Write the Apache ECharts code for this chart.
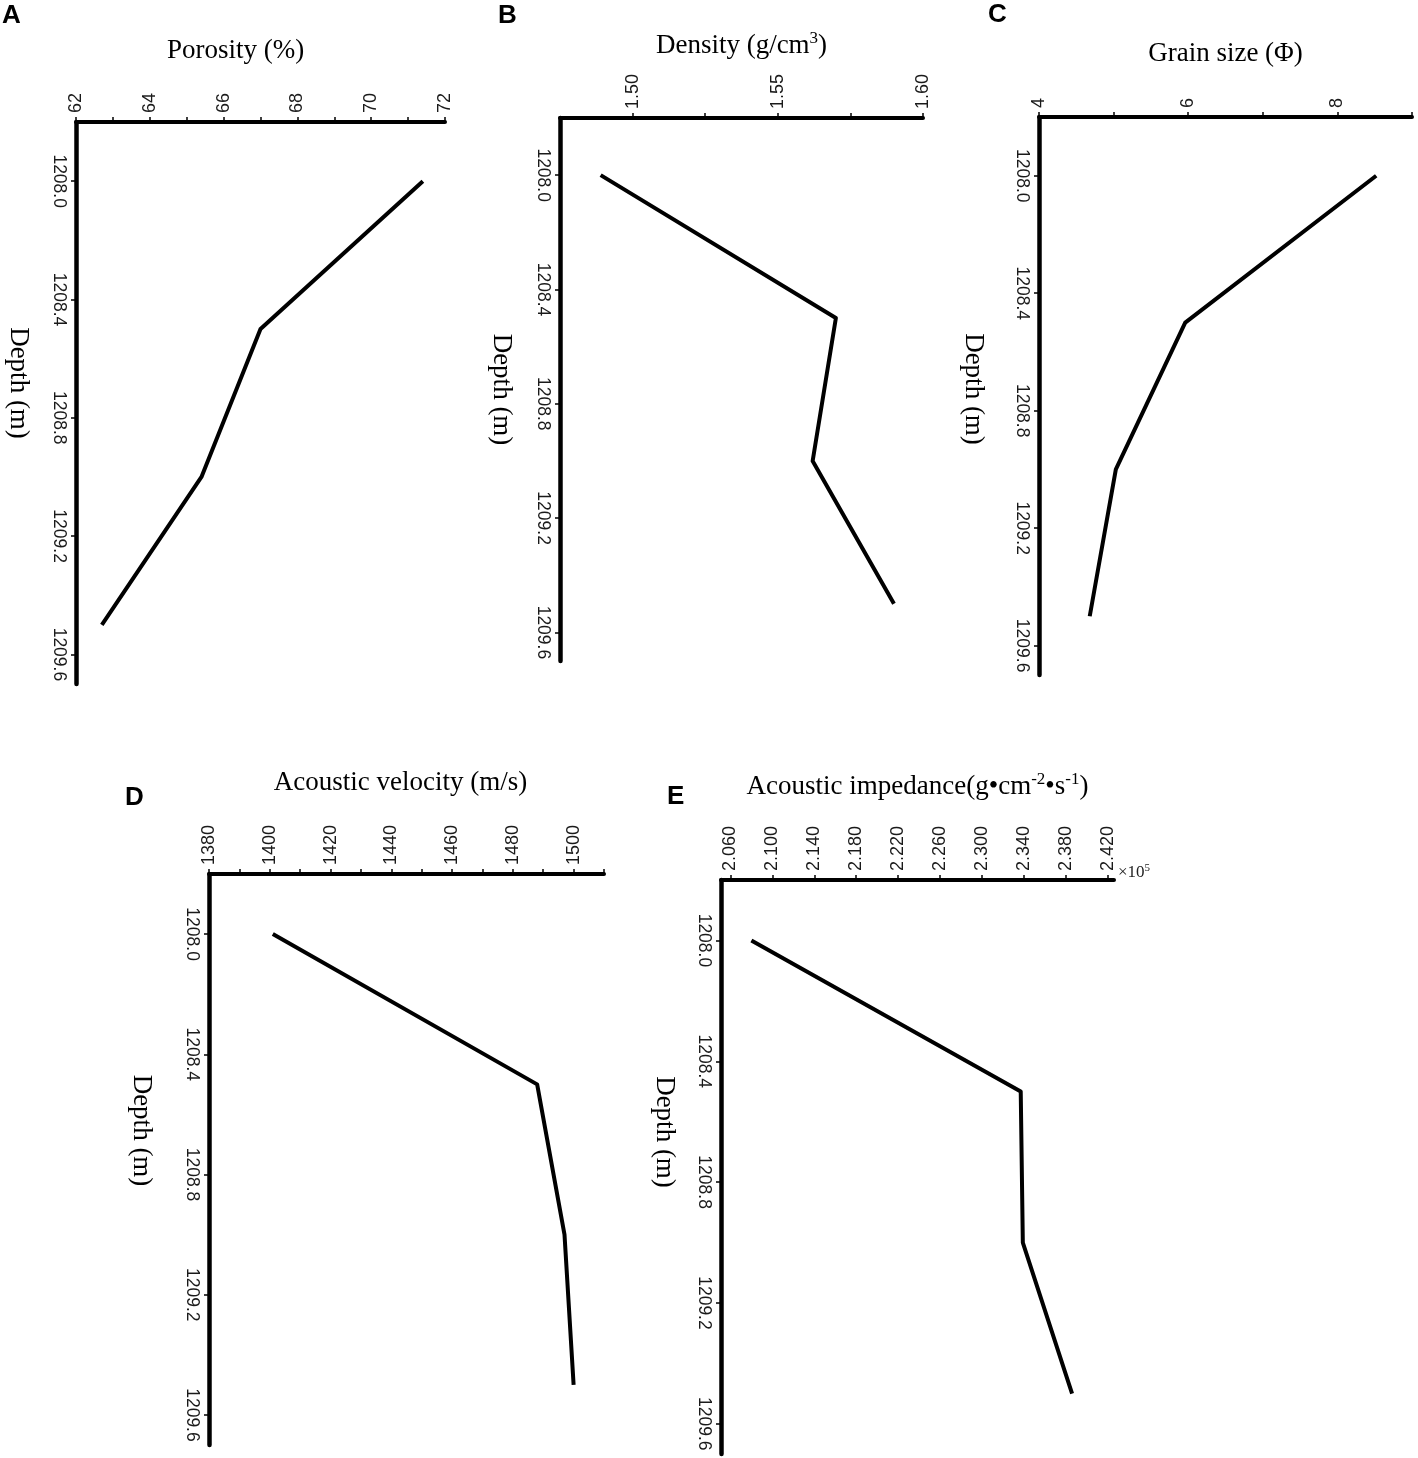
<!DOCTYPE html>
<html lang="en">
<head>
  <meta charset="UTF-8">
  <title>Core profiles</title>
  <style>
  html, body {
    margin: 0;
    padding: 0;
    width: 100%;
    height: 100%;
    background: #fff;
  }
  .main {
    width: 1418px;
    height: 1458px;
  }
  </style>
</head>
<body>
<div class="main"></div>
<script src="https://cdn.jsdelivr.net/npm/echarts@6/dist/echarts.min.js"></script>
<script>
// depth of the samples (m)
var depth = [1208.0, 1208.5, 1209.0, 1209.5];

// measured values at each depth
var porosity = [71.4, 67.0, 65.4, 62.7];
var density = [1.489, 1.570, 1.562, 1.590];
var grainSize = [8.52, 5.96, 5.03, 4.68];
var velocity = [1401, 1488, 1497, 1500];
var impedance = [2.080, 2.337, 2.339, 2.386];   // x 10^5

// tick labels
var depthLabels = [1208.0, 1208.4, 1208.8, 1209.2, 1209.6];
var porosityLabels = [62, 64, 66, 68, 70, 72];
var porosityTicks = [62, 63, 64, 65, 66, 67, 68, 69, 70, 71, 72];
var densityLabels = [1.50, 1.55, 1.60];
var densityTicks = [1.50, 1.525, 1.55, 1.575, 1.60];
var grainLabels = [4, 6, 8];
var grainTicks = [4, 5, 6, 7, 8, 9];
var velocityLabels = [1380, 1400, 1420, 1440, 1460, 1480, 1500];
var velocityTicks = [1380, 1390, 1400, 1410, 1420, 1430, 1440, 1450, 1460, 1470, 1480, 1490, 1500, 1510];
var impedanceLabels = [2.06, 2.10, 2.14, 2.18, 2.22, 2.26, 2.30, 2.34, 2.38, 2.42];

var serif = '"Liberation Serif", "Times New Roman", serif';
var sans = '"Liberation Sans", Arial, sans-serif';

var panels = [
  { letter: 'A', name: 'Porosity (%)', values: porosity, labels: porosityLabels, ticks: porosityTicks,
    min: 62, max: 72, digits: 0, box: [76, 122, 369, 562], nameGap: 58, namePad: [0, 50, 0, 0],
    depthGap: 44, depthPad: [0, 40, 0, 0], letterXY: [2, 16] },
  { letter: 'B', name: '{t|Density (g/cm}{s|3}{t|)}', values: density, labels: densityLabels, ticks: densityTicks,
    min: 1.475, max: 1.60, digits: 2, box: [560, 118, 363, 543], nameGap: 57, namePad: 0,
    depthGap: 45, depthPad: 0, letterXY: [498, 16] },
  { letter: 'C', name: 'Grain size (Φ)', values: grainSize, labels: grainLabels, ticks: grainTicks,
    min: 4, max: 9, digits: 0, box: [1039, 117, 373, 558], nameGap: 50, namePad: 0,
    depthGap: 52, depthPad: [0, 14, 0, 0], letterXY: [988, 15] },
  { letter: 'D', name: 'Acoustic velocity (m/s)', values: velocity, labels: velocityLabels, ticks: velocityTicks,
    min: 1380, max: 1510, digits: 0, box: [209, 874, 395, 571], nameGap: 78, namePad: [0, 12, 0, 0],
    depthGap: 54, depthPad: [0, 58, 0, 0], letterXY: [125, 798] },
  { letter: 'E', name: '{t|Acoustic impedance(g•cm}{s|-2}{t|•s}{s|-1}{t|)}', values: impedance,
    labels: impedanceLabels, ticks: impedanceLabels,
    min: 2.051, max: 2.426, digits: 3, box: [721, 880, 393, 574], nameGap: 78, namePad: 0,
    depthGap: 43, depthPad: [0, 70, 0, 0], letterXY: [667, 797] }
];

var myChart = echarts.init(document.querySelector('.main'), null, { renderer: 'canvas' });

var grids = [], xAxes = [], yAxes = [], series = [], graphics = [];

panels.forEach(function (p, i) {
  grids.push({ left: p.box[0], top: p.box[1], width: p.box[2], height: p.box[3] });

  xAxes.push({
    gridIndex: i,
    type: 'value',
    position: 'top',
    min: p.min,
    max: p.max,
    name: p.name,
    nameLocation: 'middle',
    nameGap: p.nameGap,
    nameTextStyle: {
      fontFamily: serif, fontSize: 27, color: '#000', padding: p.namePad,
      rich: {
        t: { fontFamily: serif, fontSize: 27, color: '#000' },
        s: { fontFamily: serif, fontSize: 17, color: '#000', padding: [0, 0, 14, 0] }
      }
    },
    axisLine: { onZero: false, lineStyle: { color: '#000', width: 4 } },
    axisTick: { customValues: p.ticks, length: 5, lineStyle: { color: '#000', width: 1.5 } },
    axisLabel: {
      customValues: p.labels,
      rotate: -90,
      margin: 9,
      fontFamily: sans,
      fontSize: 18,
      color: '#1a1a1a',
      formatter: (function (d) { return function (v) { return v.toFixed(d); }; })(p.digits)
    },
    splitLine: { show: false }
  });

  yAxes.push({
    gridIndex: i,
    type: 'value',
    inverse: true,
    min: 1207.8,
    max: 1209.7,
    name: 'Depth (m)',
    nameLocation: 'middle',
    nameRotate: -90,
    nameGap: p.depthGap,
    nameTextStyle: { fontFamily: serif, fontSize: 27, color: '#000', padding: p.depthPad },
    axisLine: { onZero: false, lineStyle: { color: '#000', width: 4.5 } },
    axisTick: { customValues: depthLabels, length: 5, lineStyle: { color: '#000', width: 1.5 } },
    axisLabel: {
      customValues: depthLabels,
      rotate: -90,
      margin: 8,
      fontFamily: sans,
      fontSize: 17.5,
      color: '#1a1a1a',
      formatter: function (v) { return v.toFixed(1); }
    },
    splitLine: { show: false }
  });

  series.push({
    type: 'line',
    xAxisIndex: i,
    yAxisIndex: i,
    symbol: 'none',
    lineStyle: { color: '#000', width: 4, join: 'round' },
    data: depth.map(function (d, k) { return [p.values[k], d]; })
  });

  graphics.push({
    type: 'text',
    x: p.letterXY[0],
    y: p.letterXY[1],
    style: { text: p.letter, font: 'bold 26px ' + sans, fill: '#000', verticalAlign: 'middle' }
  });
});

// multiplier for the impedance axis
graphics.push({
  type: 'text',
  x: 1118,
  y: 873,
  style: {
    text: '{a|×10}{b|5}',
    verticalAlign: 'middle',
    rich: {
      a: { fontFamily: serif, fontSize: 17, fill: '#222' },
      b: { fontFamily: serif, fontSize: 11, fill: '#222', padding: [0, 0, 9, 0] }
    }
  }
});

var option = {
  backgroundColor: '#fff',
  animation: false,
  grid: grids,
  xAxis: xAxes,
  yAxis: yAxes,
  series: series,
  graphic: graphics
};

myChart.setOption(option);
</script>
</body>
</html>
